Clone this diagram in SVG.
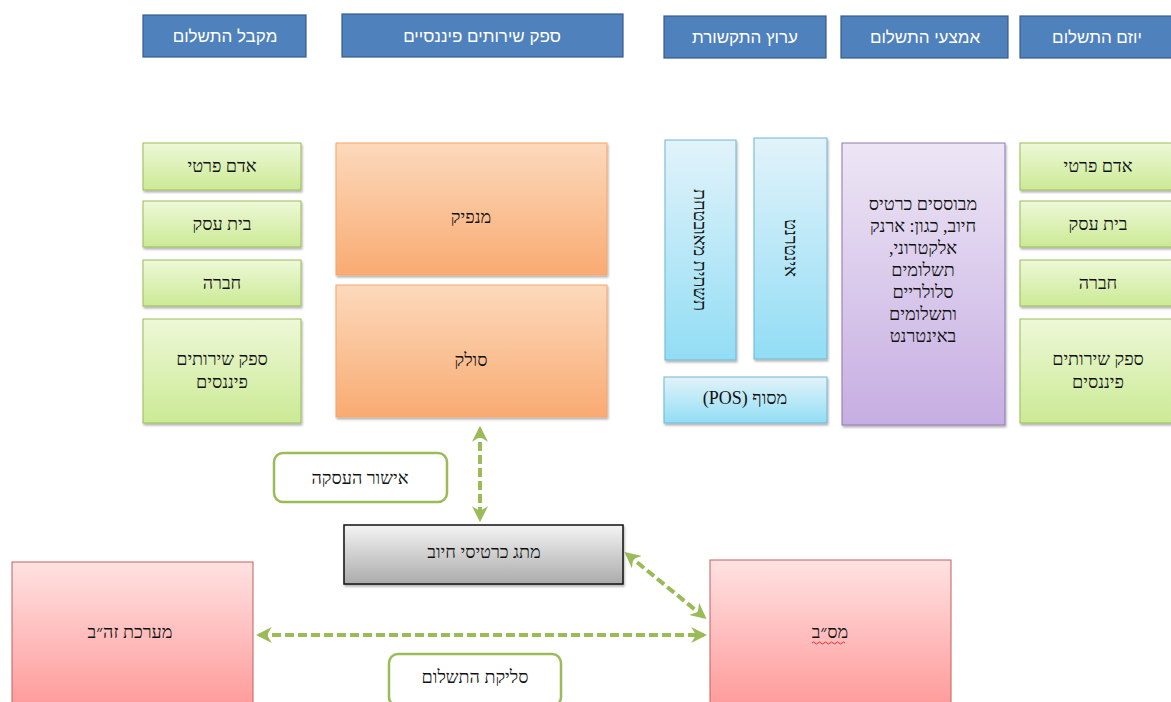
<svg xmlns="http://www.w3.org/2000/svg" width="1171" height="702" viewBox="0 0 1171 702">
<style>
text{font-family:"Liberation Serif","DejaVu Serif",serif;font-size:18px;fill:#111;text-anchor:middle;direction:rtl}
.hd{fill:#4F81BD;stroke:#385D8A;stroke-width:1.2}
.hdt{font-family:"Liberation Sans","DejaVu Sans",sans-serif;font-size:17px;fill:#fff}
.gr{fill:url(#gG);stroke:#9BBB59;stroke-width:1;filter:url(#sh)}
.or{fill:url(#gO);stroke:#F7A46A;stroke-width:1;filter:url(#sh)}
.cy{fill:url(#gC);stroke:#6FB7D0;stroke-width:1;filter:url(#sh)}
.pu{fill:url(#gP);stroke:#8E7AAE;stroke-width:1;filter:url(#sh)}
.pk{fill:url(#gR);stroke:#C0605C;stroke-width:1}
.gy{fill:url(#gY);stroke:#111;stroke-width:1.5;filter:url(#sh)}
.lb{fill:#fff;stroke:#9BBB59;stroke-width:2.5}
.cn{fill:none;stroke:#9BBB59;stroke-width:4;stroke-dasharray:9 4;marker-start:url(#ah);marker-end:url(#ah)}
</style>
<defs>
<linearGradient id="gG" x1="0" y1="0" x2="0" y2="1"><stop offset="0" stop-color="#EEF8D8"/><stop offset="1" stop-color="#CBEA95"/></linearGradient>
<linearGradient id="gO" x1="0" y1="0" x2="0" y2="1"><stop offset="0" stop-color="#FCD9BC"/><stop offset="1" stop-color="#F9AB72"/></linearGradient>
<linearGradient id="gC" x1="0" y1="0" x2="0" y2="1"><stop offset="0" stop-color="#E2F3FA"/><stop offset="1" stop-color="#92DDF5"/></linearGradient>
<linearGradient id="gP" x1="0" y1="0" x2="0" y2="1"><stop offset="0" stop-color="#EDE6F5"/><stop offset="1" stop-color="#C6AEE2"/></linearGradient>
<linearGradient id="gR" x1="0" y1="0" x2="0" y2="1"><stop offset="0" stop-color="#FFE2E2"/><stop offset="1" stop-color="#FF9A9A"/></linearGradient>
<linearGradient id="gY" x1="0" y1="0" x2="0" y2="1"><stop offset="0" stop-color="#F4F4F4"/><stop offset="1" stop-color="#ABABAB"/></linearGradient>
<filter id="sh" x="-10%" y="-10%" width="120%" height="120%"><feDropShadow dx="1" dy="2" stdDeviation="1.2" flood-color="#000" flood-opacity="0.3"/></filter>
<marker id="ah" viewBox="0 0 10 10" refX="8" refY="5" markerWidth="4" markerHeight="4" orient="auto-start-reverse" markerUnits="strokeWidth"><path d="M0,0 L10,5 L0,10 L3,5 Z" fill="#9BBB59"/></marker>
</defs>

<g id="hdr-receiver"><rect class="hd" x="143" y="15" width="163" height="42"/><text class="hdt" x="225" y="42">מקבל התשלום</text></g>
<g id="hdr-fsp"><rect class="hd" x="342" y="14" width="281" height="43"/><text class="hdt" x="482" y="42">ספק שירותים פיננסיים</text></g>
<g id="hdr-channel"><rect class="hd" x="664" y="16" width="162" height="42"/><text class="hdt" x="745" y="43">ערוץ התקשורת</text></g>
<g id="hdr-means"><rect class="hd" x="841" y="16" width="167" height="42"/><text class="hdt" x="925" y="43">אמצעי התשלום</text></g>
<g id="hdr-initiator"><rect class="hd" x="1020" y="16" width="160" height="42"/><text class="hdt" x="1097" y="43">יוזם התשלום</text></g>

<g id="l-person"><rect class="gr" x="143" y="143" width="158" height="47"/><text x="222" y="172">אדם פרטי</text></g>
<g id="l-business"><rect class="gr" x="143" y="201" width="158" height="46"/><text x="222" y="230">בית עסק</text></g>
<g id="l-company"><rect class="gr" x="143" y="260" width="158" height="46"/><text x="222" y="289">חברה</text></g>
<g id="l-fsp"><rect class="gr" x="143" y="319" width="158" height="104"/><text x="222" y="365">ספק שירותים</text><text x="222" y="388">פיננסים</text></g>

<g id="issuer"><rect class="or" x="336" y="143" width="271" height="132"/><text x="471" y="223">מנפיק</text></g>
<g id="acquirer"><rect class="or" x="336" y="285" width="271" height="132"/><text x="471" y="366">סולק</text></g>

<g id="secure-infra"><rect class="cy" x="665" y="140" width="71" height="220"/><text transform="translate(700,250) rotate(90)" x="0" y="6">תשתית מאובטחת</text></g>
<g id="internet"><rect class="cy" x="754" y="138" width="73" height="221"/><text transform="translate(791,248) rotate(90)" x="0" y="6">אינטרנט</text></g>
<g id="pos"><rect class="cy" x="664" y="377" width="163" height="46"/><text x="745" y="404">מסוף (POS)</text></g>

<g id="means"><rect class="pu" x="842" y="143" width="163" height="282"/>
<text x="923" y="210">מבוססים כרטיס</text>
<text x="923" y="232">חיוב, כגון: ארנק</text>
<text x="923" y="254">אלקטרוני,</text>
<text x="923" y="276">תשלומים</text>
<text x="923" y="298">סלולריים</text>
<text x="923" y="320">ותשלומים</text>
<text x="923" y="342">באינטרנט</text>
</g>

<g id="r-person"><rect class="gr" x="1020" y="143" width="160" height="47"/><text x="1098" y="172">אדם פרטי</text></g>
<g id="r-business"><rect class="gr" x="1020" y="201" width="160" height="46"/><text x="1098" y="230">בית עסק</text></g>
<g id="r-company"><rect class="gr" x="1020" y="260" width="160" height="46"/><text x="1098" y="289">חברה</text></g>
<g id="r-fsp"><rect class="gr" x="1020" y="319" width="160" height="104"/><text x="1098" y="365">ספק שירותים</text><text x="1098" y="388">פיננסים</text></g>

<g id="connectors">
<line class="cn" x1="480" y1="429" x2="480" y2="519"/>
<line class="cn" x1="627" y1="554" x2="704" y2="617"/>
<line class="cn" x1="259" y1="635" x2="704" y2="635"/>
</g>

<g id="lbl-approval"><rect class="lb" x="274" y="453" width="173" height="49" rx="9"/><text x="360" y="484">אישור העסקה</text></g>
<g id="switch"><rect class="gy" x="344" y="525" width="279" height="59"/><text x="484" y="558">מתג כרטיסי חיוב</text></g>
<g id="rtgs"><rect class="pk" x="12" y="562" width="241" height="145"/><text x="130" y="638">מערכת זה״ב</text></g>
<g id="masav"><rect class="pk" x="710" y="560" width="241" height="147"/><text x="830" y="638">מס״ב</text>
<path d="M812,643 q1.5,-2 3,0 t3,0 t3,0 t3,0 t3,0 t3,0 t3,0 t3,0 t3,0 t3,0 t3,0" fill="none" stroke="#E02020" stroke-width="0.9"/></g>
<g id="lbl-clearing"><rect class="lb" x="389" y="654" width="172" height="52" rx="9"/><text x="475" y="683">סליקת התשלום</text></g>
</svg>
